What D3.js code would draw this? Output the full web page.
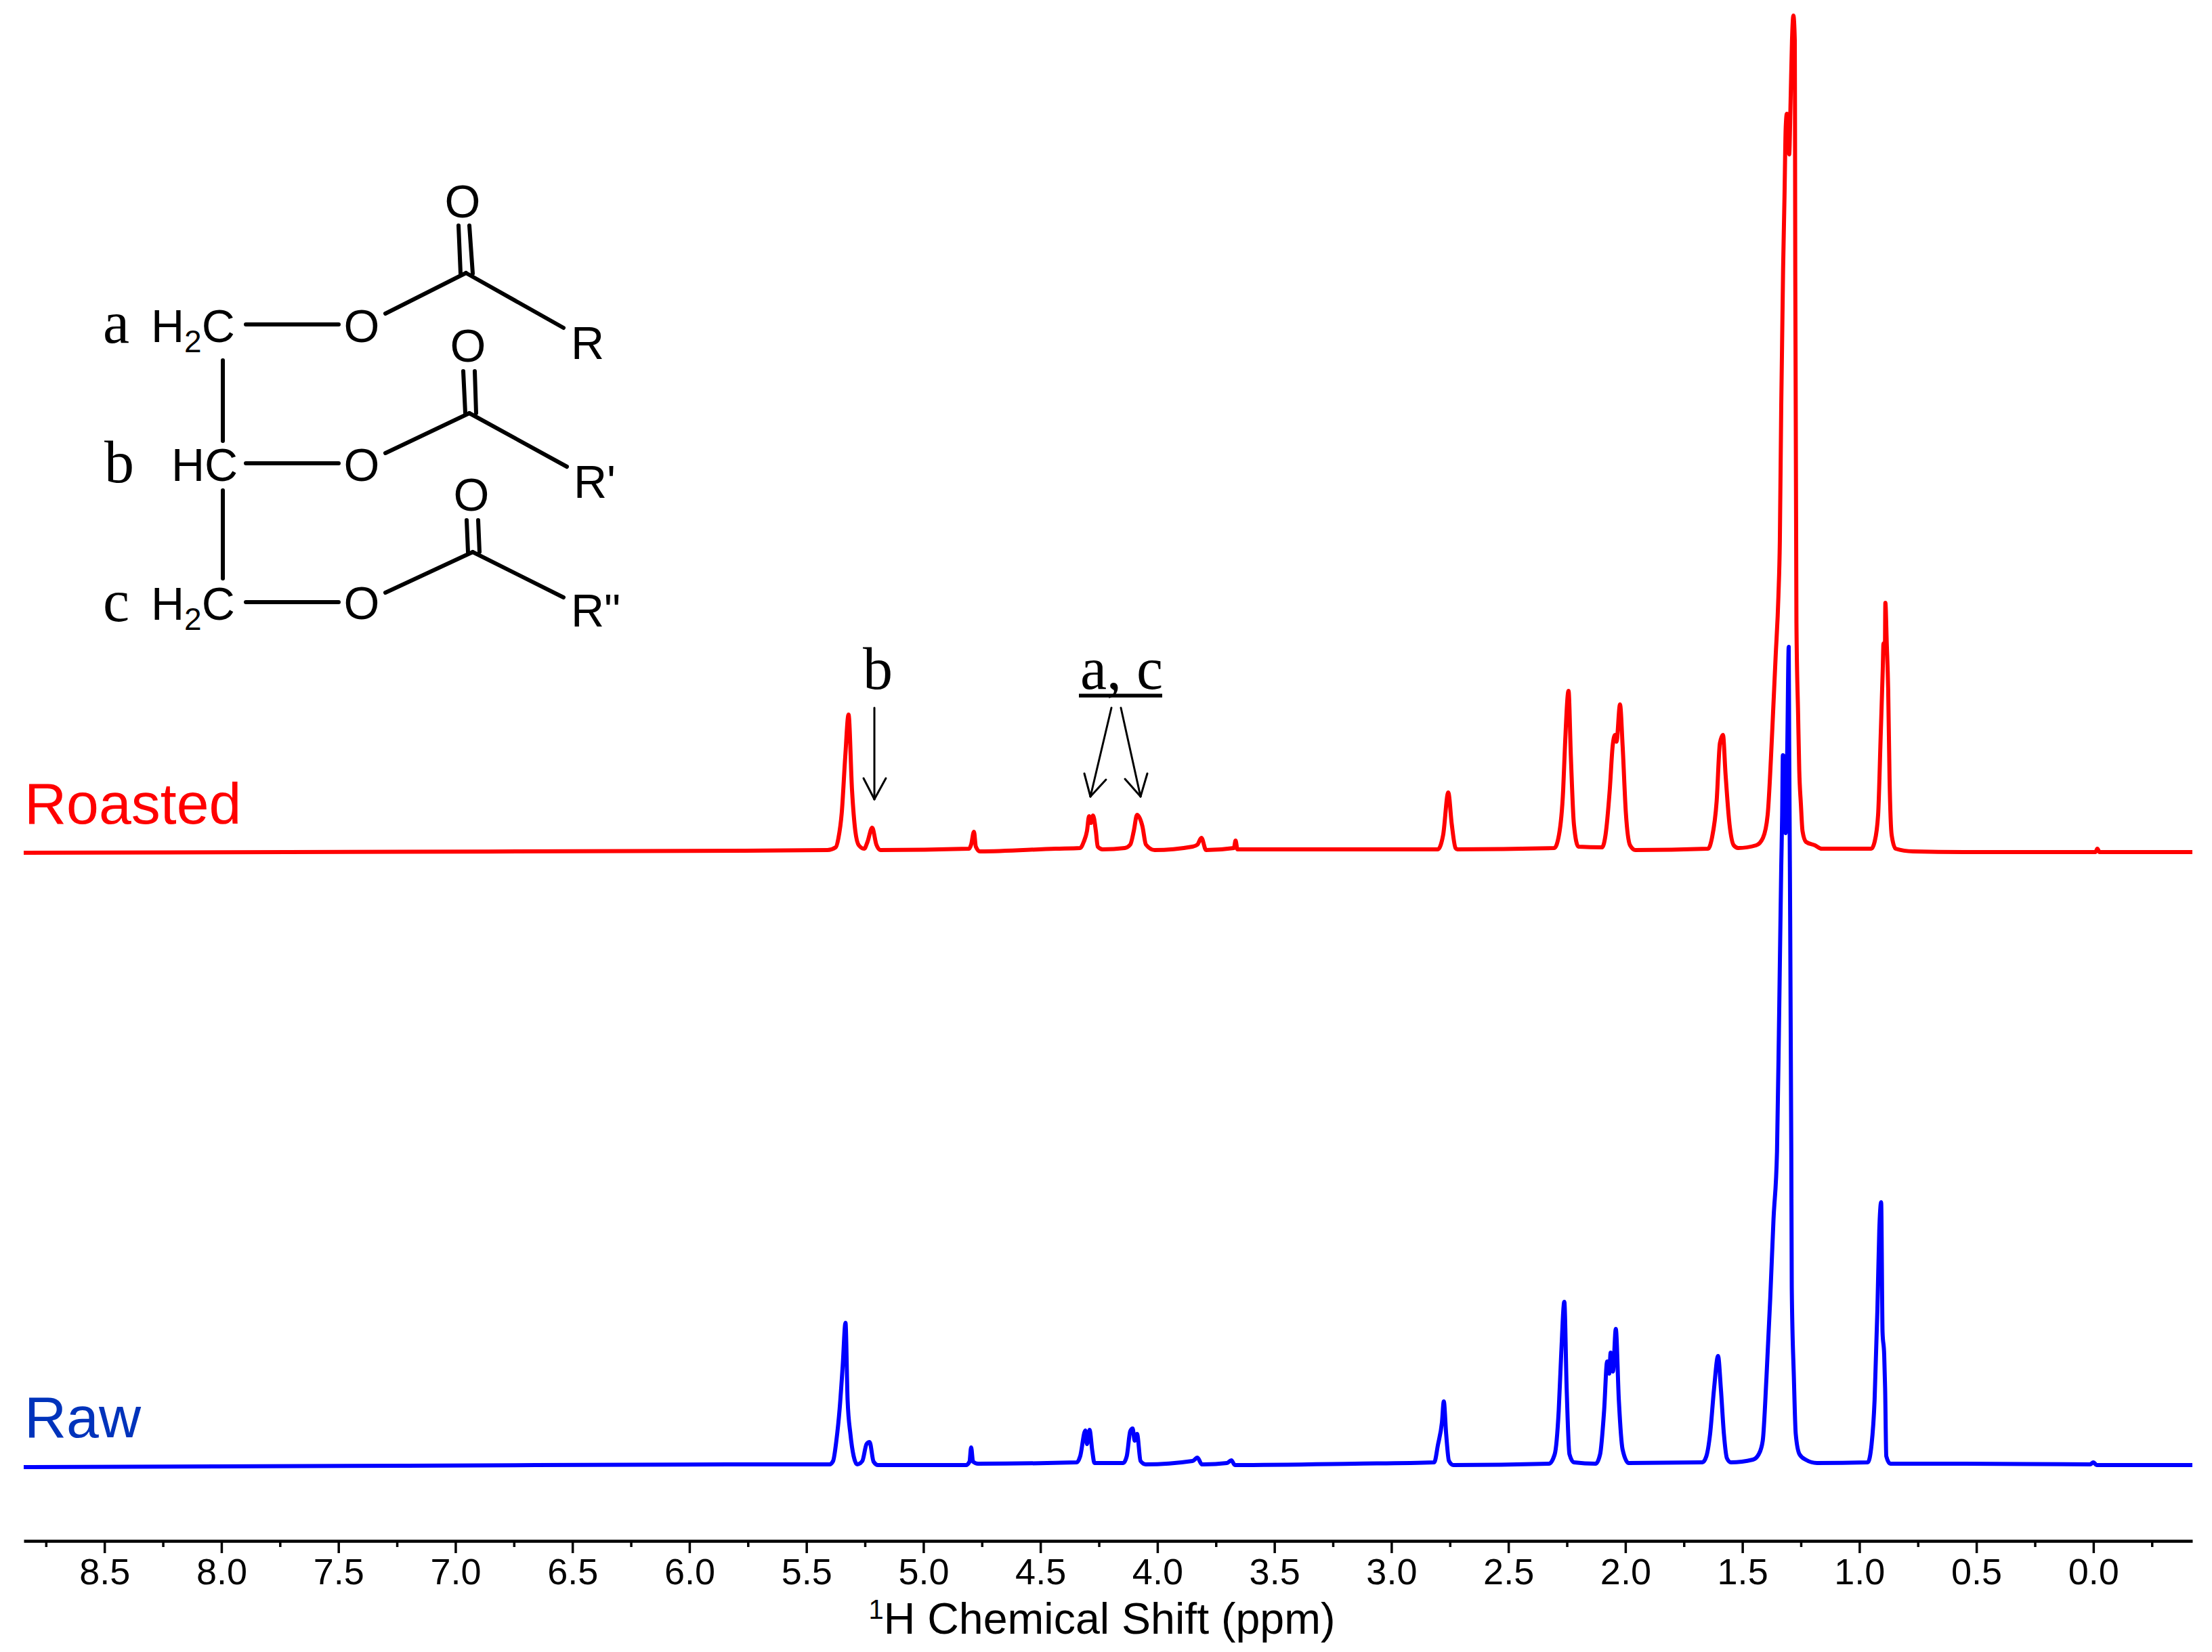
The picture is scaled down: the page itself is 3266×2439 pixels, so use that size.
<!DOCTYPE html>
<html>
<head>
<meta charset="utf-8">
<script src="https://cdn.jsdelivr.net/npm/d3@7"></script>
<style>
  html, body { margin: 0; padding: 0; background: #fff; }
  svg { display: block; }
</style>
</head>
<body>
<div id="chart"></div>
<script>
const roastedShift = [
  8.845, 7.210, 5.763, 5.410, 5.375, 5.363, 5.349, 5.334, 5.320, 5.305, 5.291, 5.276, 5.253, 5.239, 5.219, 5.201, 5.184,
  4.805, 4.796, 4.784, 4.776, 4.758, 4.434, 4.330, 4.315, 4.301, 4.292, 4.284, 4.275, 4.263, 4.255, 4.234,
  4.139, 4.116, 4.101, 4.087, 4.064, 4.049, 4.012, 3.850, 3.829, 3.812, 3.792, 3.673, 3.666, 3.658, 3.447,
  2.802, 2.779, 2.757, 2.742, 2.726, 2.718, 2.304, 2.284, 2.266, 2.258, 2.243, 2.233, 2.220, 2.201,
  2.100, 2.085, 2.067, 2.054, 2.044, 2.038, 2.023, 2.012, 1.998, 1.980, 1.957,
  1.647, 1.630, 1.610, 1.596, 1.583, 1.572, 1.555, 1.537, 1.518, 1.441, 1.412, 1.392, 1.378, 1.369, 1.358,
  1.346, 1.340, 1.334, 1.326, 1.320, 1.315, 1.310, 1.304, 1.300, 1.294, 1.288, 1.282, 1.276, 1.275, 1.274,
  1.269, 1.262, 1.257, 1.250, 1.243, 1.228, 1.190, 1.161, 0.949, 0.935, 0.920, 0.909, 0.900, 0.897, 0.891,
  0.889, 0.883, 0.877, 0.871, 0.862, 0.845, 0.770, 0.553, 0.003, -0.009, -0.017, -0.026, -0.423
]
const roastedIntensity = [
  0, 1.5, 3, 4, 8, 22, 59, 142, 204, 92, 32, 11, 6, 16, 37, 12, 4,
  6, 12, 31, 9, 2, 6, 7, 16, 32, 54, 44, 55, 32, 9, 5,
  7, 12, 32, 56, 39, 12, 4, 9, 12, 22, 4, 7, 18, 5, 5,
  5, 26, 89, 42, 7, 5, 7, 26, 92, 159, 239, 142, 42, 9,
  8, 26, 92, 159, 174, 164, 219, 159, 59, 11, 4,
  6, 22, 76, 162, 174, 116, 42, 11, 7, 11, 22, 56, 139, 206, 289,
  379, 459, 659, 862, 969, 1069, 1091, 1089, 1031, 1109, 1199, 1236, 1199, 1059, 859,
  339, 206, 122, 72, 32, 16, 11, 6, 6, 16, 56, 172, 272, 309, 299,
  369, 309, 242, 109, 26, 6, 2, 1, 1, 1, 6, 1, 1
]

const rawShift = [
  8.845, 7.210, 5.763, 5.401, 5.386, 5.372, 5.358, 5.345, 5.333, 5.324, 5.312, 5.298, 5.283, 5.261, 5.243, 5.230, 5.213, 5.194,
  4.818, 4.803, 4.796, 4.788, 4.767, 4.344, 4.330, 4.308, 4.301, 4.290, 4.278, 4.269,
  4.146, 4.131, 4.116, 4.106, 4.097, 4.087, 4.072, 4.050, 3.850, 3.829, 3.810, 3.703, 3.684, 3.669, 3.158,
  2.817, 2.801, 2.784, 2.776, 2.766, 2.754, 2.735, 2.327, 2.302, 2.285, 2.274, 2.261, 2.251, 2.239, 2.220,
  2.127, 2.108, 2.091, 2.078, 2.069, 2.063, 2.053, 2.041, 2.028, 2.012, 1.986,
  1.671, 1.654, 1.638, 1.621, 1.604, 1.592, 1.579, 1.566, 1.549, 1.455, 1.430, 1.413, 1.397, 1.381, 1.367,
  1.352, 1.343, 1.334, 1.330, 1.327, 1.321, 1.315, 1.308, 1.302, 1.300, 1.297, 1.291, 1.289, 1.280, 1.272,
  1.256, 1.230, 1.181, 0.964, 0.948, 0.935, 0.923, 0.915, 0.907, 0.901, 0.894, 0.890, 0.885, 0.868, 0.553,
  0.014, 0.000, -0.014, -0.423
]
const rawIntensity = [
  0, 2, 4, 4, 9, 39, 86, 149, 213, 99, 49, 16, 4, 9, 34, 37, 8, 3,
  3, 8, 29, 8, 5, 7, 16, 54, 34, 55, 23, 6,
  6, 16, 53, 57, 39, 49, 9, 4, 9, 14, 4, 6, 10, 3, 5,
  7, 33, 66, 97, 49, 9, 3, 5, 19, 83, 169, 244, 116, 19, 7,
  5, 19, 83, 156, 138, 169, 141, 204, 99, 26, 6,
  7, 16, 49, 116, 164, 116, 49, 13, 7, 11, 19, 39, 133, 249, 366,
  466, 666, 886, 963, 1051, 1048, 936, 1066, 1211, 1066, 886, 466, 266, 133, 49,
  19, 11, 6, 7, 33, 99, 233, 349, 391, 199, 166, 116, 16, 5, 5,
  4, 7, 3, 3
]

const majorTicks = [8.5, 8.0, 7.5, 7.0, 6.5, 6.0, 5.5, 5.0, 4.5, 4.0, 3.5, 3.0, 2.5, 2.0, 1.5, 1.0, 0.5, 0.0]
const minorTicks = [8.75, 8.25, 7.75, 7.25, 6.75, 6.25, 5.75, 5.25, 4.75, 4.25, 3.75, 3.25, 2.75, 2.25, 1.75, 1.25, 0.75, 0.25, -0.25]

const width = 3266
const height = 2439
const sans = '"Liberation Sans", Arial, sans-serif'
const serif = '"Liberation Serif", "Times New Roman", serif'

const svg = d3.select('#chart')
  .append('svg')
  .attr('width', width)
  .attr('height', height)
  .attr('viewBox', [0, 0, width, height])

const x = d3.scaleLinear().domain([8.845, -0.423]).range([35, 3237])
// both traces share one intensity scale, only the stack offset differs
const yRoasted = d3.scaleLinear().domain([0, 1239]).range([1259, 20])
const yRaw = d3.scaleLinear().domain([0, 1239]).range([2166, 927])

const drawTrace = (shift, intensity, y, color) => {
  // pixel x grows along the arrays because the ppm axis is reversed
  const line = d3.line()
    .x(d => x(d))
    .y((d, i) => y(intensity[i]))
    .curve(d3.curveMonotoneX)
  svg.append('path')
    .attr('d', line(shift))
    .attr('fill', 'none')
    .attr('stroke', color)
    .attr('stroke-width', 6)
    .attr('stroke-linejoin', 'round')
}

drawTrace(rawShift, rawIntensity, yRaw, '#0000ff')
drawTrace(roastedShift, roastedIntensity, yRoasted, '#ff0000')

const axisY = 2275

svg.append('g')
  .attr('transform', `translate(0,${axisY})`)
  .call(d3.axisBottom(x).tickValues(minorTicks).tickSize(9).tickSizeOuter(0).tickFormat(''))
  .call(g => g.select('.domain').remove())
  .call(g => g.selectAll('line').attr('stroke', '#000').attr('stroke-width', 3.5))

const xAxis = svg.append('g')
  .attr('transform', `translate(0,${axisY})`)
  .call(d3.axisBottom(x).tickValues(majorTicks).tickSize(18).tickSizeOuter(0).tickPadding(8).tickFormat(d3.format('.1f')))

xAxis.select('.domain').attr('stroke', '#000').attr('stroke-width', 4.5)
xAxis.selectAll('line').attr('stroke', '#000').attr('stroke-width', 3.5)
xAxis.selectAll('text')
  .attr('fill', '#000')
  .style('font-family', sans)
  .style('font-size', '54px')

const addText = (str, px, py, size, family, color, anchor) => svg.append('text')
  .attr('x', px)
  .attr('y', py)
  .attr('fill', color || '#000')
  .attr('text-anchor', anchor || 'start')
  .style('font-family', family)
  .style('font-size', `${size}px`)
  .text(str)

const title = addText('', 1627, 2412, 64.5, sans, '#000', 'middle')
title.append('tspan').attr('dy', -22).style('font-size', '40px').text('1')
title.append('tspan').attr('dy', 22).text('H Chemical Shift (ppm)')

addText('Roasted', 36, 1216, 86, sans, '#ff0000')
addText('Raw', 36, 2122, 86, sans, '#0033bb')

// peak annotations
const addSegment = (x1, y1, x2, y2, w) => svg.append('line')
  .attr('x1', x1).attr('y1', y1).attr('x2', x2).attr('y2', y2)
  .attr('stroke', '#000')
  .attr('stroke-width', w)
  .attr('stroke-linecap', 'round')

const addArrow = (x1, y1, x2, y2, hx1, hy1, hx2, hy2) => {
  addSegment(x1, y1, x2, y2, 3)
  addSegment(hx1, hy1, x2, y2, 3)
  addSegment(hx2, hy2, x2, y2, 3)
}

addText('b', 1296, 1017, 88, serif, '#000', 'middle')
addArrow(1291, 1045, 1291, 1180, 1275, 1149, 1308, 1149)
addText('a, c', 1595, 1017, 88, serif)
addSegment(1593, 1027, 1716, 1027, 5.5).attr('stroke-linecap', 'butt')
addArrow(1641, 1045, 1610, 1176, 1601, 1142, 1633, 1151)
addArrow(1655, 1045, 1684, 1176, 1661, 1150, 1694, 1142)

// triglyceride structure drawn in the upper left
const structSize = 68
const bondWidth = 6

const addHydrogenCarbon = (px, py) => {
  const t = addText('H', px, py, structSize, sans)
  t.append('tspan').attr('dy', 15).style('font-size', '46px').text('2')
  t.append('tspan').attr('dy', -15).text('C')
}

addText('a', 152, 506, 88, serif)
addText('b', 154, 712, 88, serif)
addText('c', 152, 917, 88, serif)

addHydrogenCarbon(223, 505)
addText('HC', 253, 710, structSize, sans)
addHydrogenCarbon(223, 915)

addSegment(329, 532, 329, 651, bondWidth)
addSegment(329, 724, 329, 854, bondWidth)

const esterRows = [
  { y: 479, o: 505, oc: [569, 463, 688, 403], cr: [832, 484], d1: [677, 333, 680, 404], d2: [693, 333, 698, 404], topO: [683, 321], r: [843, 530, 'R'] },
  { y: 684, o: 710, oc: [569, 669, 693, 610], cr: [837, 689], d1: [684, 548, 687, 610], d2: [701, 548, 703, 610], topO: [691, 534], r: [847, 735, "R'"] },
  { y: 889, o: 914, oc: [569, 875, 698, 815], cr: [832, 882], d1: [689, 768, 691, 815], d2: [706, 768, 708, 815], topO: [696, 754], r: [843, 925, 'R"'] }
]

esterRows.forEach(d => {
  addSegment(363, d.y, 500, d.y, bondWidth)
  addText('O', 534, d.o, structSize, sans, '#000', 'middle')
  addSegment(d.oc[0], d.oc[1], d.oc[2], d.oc[3], bondWidth)
  addSegment(d.oc[2], d.oc[3], d.cr[0], d.cr[1], bondWidth)
  addSegment(d.d1[0], d.d1[1], d.d1[2], d.d1[3], bondWidth)
  addSegment(d.d2[0], d.d2[1], d.d2[2], d.d2[3], bondWidth)
  addText('O', d.topO[0], d.topO[1], structSize, sans, '#000', 'middle')
  addText(d.r[2], d.r[0], d.r[1], structSize, sans)
})
</script>
</body>
</html>
